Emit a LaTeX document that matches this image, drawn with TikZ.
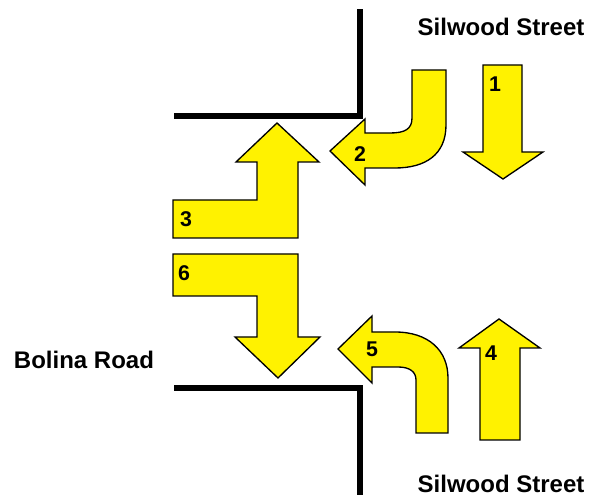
\documentclass[tikz,border=0pt]{standalone}
\usepackage{fontspec}
\setmainfont{Liberation Sans}
\usepackage{tikz}

\tikzset{
  lane/.style={line width=4pt, line join=miter},
  turn/.style={fill=yellow, draw=black, line width=1pt, line join=miter},
  num/.style={inner sep=0pt, font=\fontsize{16}{19}\selectfont\bfseries},
  street/.style={inner sep=0pt, font=\fontsize{18}{21}\selectfont\bfseries}
}

\begin{document}
\begin{tikzpicture}[x=0.75pt, y=-0.75pt]
\useasboundingbox (0,0) rectangle (601,498);
% kerbs
\draw[lane] (174,116) -- (360,116) -- (360,9);
\draw[lane] (174,388) -- (360,388) -- (360,495);
% arrow 1
\draw[turn] (483,65) -- (522,65) -- (522,152) -- (543,152) -- (503,179) -- (463,152) -- (483,152) -- cycle;
% arrow 2
\draw[turn] (412,70) -- (412,118) .. controls (412,129) and (405,133) .. (390,133) -- (365,133) -- (365,119) -- (330,151) -- (365,185) -- (365,168) -- (395,168) .. controls (425,168) and (446,155) .. (446,125) -- (446,70) -- cycle;
% arrow 3
\draw[turn] (173,238) -- (298,238) -- (298,162) -- (319,162) -- (277,123) -- (236,162) -- (257,162) -- (257,200) -- (173,200) -- cycle;
% arrow 4
\draw[turn] (480,440) -- (520,440) -- (520,348) -- (540,348) -- (499,319) -- (459,348) -- (480,348) -- cycle;
% arrow 5
\draw[turn] (448,433) -- (448,378) .. controls (448,350) and (428,332) .. (395,332) -- (372,332) -- (372,316) -- (338,349) -- (372,383) -- (372,367) -- (398,367) .. controls (410,367) and (416,372) .. (416,380) -- (416,433) -- cycle;
% arrow 6
\draw[turn] (173,254) -- (298,254) -- (298,337) -- (320,337) -- (278,378) -- (235,337) -- (257,337) -- (257,296) -- (173,296) -- cycle;
% labels
\node[num] (n1) at (495,84) {1};
\node[num] (n2) at (360,154) {2};
\node[num] (n3) at (186,219) {3};
\node[num] (n4) at (491,353) {4};
\node[num] (n5) at (372,349) {5};
\node[num] (n6) at (184,273) {6};
\node[street] (top) at (501,27) {Silwood Street};
\node[street] (bottom) at (501,484) {Silwood Street};
\node[street] (bolina) at (84,360) {Bolina Road};
\end{tikzpicture}
\end{document}
